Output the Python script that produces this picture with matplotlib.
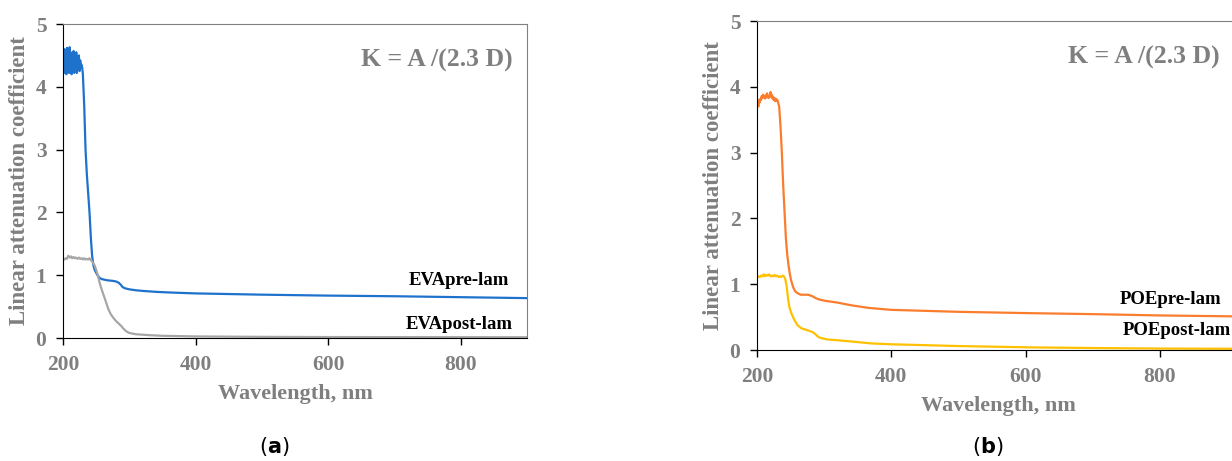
import matplotlib
matplotlib.use('Agg')
import matplotlib.pyplot as plt

plt.rcParams['font.family'] = 'Liberation Serif'
plt.rcParams['font.weight'] = 'bold'

# EVA panel (a)
eva_pre_wl = [200, 201, 202, 203, 204, 205, 206, 207, 208, 209, 210, 211, 212, 213, 214, 215, 216, 217, 218, 219,
              220, 221, 222, 223, 224, 225, 226, 227, 228, 229, 230, 232, 234, 236, 238, 240, 242, 244, 246, 248,
              250, 252, 255, 258, 262, 266, 270, 275, 280, 284, 287, 290, 294, 300, 310, 320, 340, 360, 400, 450,
              500, 600, 700, 800, 900]
eva_pre_k = [4.45, 4.25, 4.6, 4.22, 4.55, 4.2, 4.62, 4.25, 4.58, 4.22, 4.63, 4.3, 4.5, 4.2, 4.55, 4.25, 4.57, 4.22, 4.5, 4.3,
             4.55, 4.22, 4.45, 4.3, 4.5, 4.25, 4.42, 4.3, 4.35, 4.3, 4.2, 3.7, 3.0, 2.6, 2.3, 2.0, 1.6, 1.3, 1.15, 1.08,
             1.04, 1.0, 0.96, 0.94, 0.93, 0.92, 0.915, 0.91, 0.9, 0.88, 0.85, 0.81, 0.79, 0.775, 0.76, 0.75, 0.735, 0.725, 0.71, 0.70,
             0.69, 0.675, 0.665, 0.65, 0.635]

eva_post_wl = [200, 202, 204, 206, 208, 210, 212, 214, 216, 218, 220, 222, 224, 226, 228, 230, 232, 234, 236, 238,
               240, 242, 244, 248, 252, 256, 260, 264, 268, 272, 276, 280, 284, 288, 291, 295, 300, 310, 330, 350,
               400, 500, 600, 900]
eva_post_k = [1.24, 1.25, 1.27, 1.26, 1.31, 1.28, 1.30, 1.27, 1.29, 1.27, 1.28, 1.26, 1.28, 1.26, 1.27, 1.25, 1.27, 1.25, 1.26, 1.25,
              1.27, 1.24, 1.22, 1.15, 1.02, 0.85, 0.72, 0.6, 0.47, 0.38, 0.32, 0.27, 0.23, 0.19, 0.15, 0.11, 0.08, 0.06, 0.045, 0.035,
              0.025, 0.018, 0.015, 0.012]

# POE panel (b)
poe_pre_wl = [200, 201, 202, 203, 204, 205, 206, 207, 208, 209, 210, 211, 212, 213, 214, 215, 216, 217, 218, 219,
              220, 221, 222, 223, 224, 225, 226, 227, 228, 229, 230, 231, 233, 235, 237, 239, 241, 243, 245, 247,
              249, 251, 254, 257, 261, 265, 270, 276, 282, 287, 292, 300, 320, 340, 366, 400, 500, 607, 700, 800, 920]
poe_pre_k = [3.72, 3.78, 3.7, 3.8, 3.76, 3.82, 3.8, 3.86, 3.83, 3.88, 3.84, 3.86, 3.82, 3.87, 3.84, 3.9, 3.86, 3.83, 3.86, 3.84,
             3.92, 3.86, 3.88, 3.82, 3.85, 3.8, 3.83, 3.78, 3.82, 3.79, 3.8, 3.78, 3.7, 3.4, 3.0, 2.5, 2.1, 1.7, 1.45, 1.28,
             1.15, 1.05, 0.95, 0.89, 0.86, 0.84, 0.84, 0.84, 0.82, 0.79, 0.77, 0.75, 0.72, 0.68, 0.64, 0.61, 0.58, 0.56, 0.545, 0.525, 0.51]

poe_post_wl = [200, 202, 204, 206, 208, 210, 212, 214, 216, 218, 220, 222, 224, 226, 228, 230, 232, 234, 236, 238,
               240, 242, 244, 246, 248, 251, 255, 260, 266, 272, 278, 283, 287, 291, 296, 305, 318, 340, 370, 400,
               500, 607, 700, 800, 920]
poe_post_k = [1.1, 1.12, 1.11, 1.13, 1.12, 1.15, 1.12, 1.14, 1.13, 1.15, 1.12, 1.13, 1.12, 1.14, 1.12, 1.13, 1.11, 1.12, 1.11, 1.13,
              1.12, 1.08, 0.98, 0.8, 0.66, 0.56, 0.47, 0.38, 0.33, 0.31, 0.29, 0.27, 0.24, 0.2, 0.18, 0.16, 0.15, 0.13, 0.1, 0.087,
              0.06, 0.04, 0.03, 0.022, 0.018]

x_ticks = [200, 400, 600, 800]
y_ticks = [0, 1, 2, 3, 4, 5]
formula = 'K = A /(2.3 D)'

gray_txt = '#7f7f7f'

fig = plt.figure(figsize=(12.32, 4.61), dpi=100)


def style_axes(ax):
    ax.set_ylim(0, 5)
    ax.set_xticks(x_ticks)
    ax.set_yticks(y_ticks)
    ax.tick_params(direction='out', length=5, width=1, colors='black', labelcolor=gray_txt, labelsize=15.5)
    ax.tick_params(axis='x', pad=7)
    ax.tick_params(axis='y', pad=7)
    for lab in ax.get_xticklabels() + ax.get_yticklabels():
        lab.set_fontweight('bold')
    ax.spines['left'].set_color('black')
    ax.spines['bottom'].set_color('black')
    ax.spines['top'].set_color('#808080')
    ax.spines['right'].set_color('#808080')
    ax.set_ylabel('Linear attenuation coefficient', fontsize=16.5, fontweight='bold', color=gray_txt, labelpad=4)


# panel (a)
ax1 = fig.add_axes([63 / 1232, 123 / 461, 464 / 1232, 314 / 461])
ax1.plot(eva_pre_wl, eva_pre_k, color='#1f72cc', lw=1.6)
ax1.plot(eva_post_wl, eva_post_k, color='#a6a6a6', lw=1.6)
ax1.set_xlim(200, 900)
style_axes(ax1)
ax1.set_xlabel('Wavelength, nm', fontsize=16, fontweight='bold', color=gray_txt, labelpad=7)
ax1.text(0.968, 0.885, formula, transform=ax1.transAxes, ha='right', va='center', fontsize=18.5, fontweight='bold', color=gray_txt)
ax1.text(797, 0.92, 'EVApre-lam', ha='center', va='center', fontsize=13.5, fontweight='bold', color='black')
ax1.text(797, 0.22, 'EVApost-lam', ha='center', va='center', fontsize=13.5, fontweight='bold', color='black')

# panel (b)
ax2 = fig.add_axes([757 / 1232, 111 / 461, 483 / 1232, 329 / 461])
ax2.plot(poe_pre_wl, poe_pre_k, color='#fa7d2d', lw=1.6)
ax2.plot(poe_post_wl, poe_post_k, color='#ffc000', lw=1.6)
ax2.set_xlim(200, 919)
style_axes(ax2)
ax2.set_xlabel('Wavelength, nm', fontsize=16, fontweight='bold', color=gray_txt, labelpad=7)
ax2.text(0.958, 0.888, formula, transform=ax2.transAxes, ha='right', va='center', fontsize=18.5, fontweight='bold', color=gray_txt)
ax2.text(816, 0.76, 'POEpre-lam', ha='center', va='center', fontsize=13.5, fontweight='bold', color='black')
ax2.text(825, 0.29, 'POEpost-lam', ha='center', va='center', fontsize=13.5, fontweight='bold', color='black')

fig.text(274 / 1232, 1 - 446 / 461, r'($\mathbf{a}$)', ha='center', va='center', fontsize=15, family='DejaVu Sans', fontweight='normal')
fig.text(988 / 1232, 1 - 446 / 461, r'($\mathbf{b}$)', ha='center', va='center', fontsize=15, family='DejaVu Sans', fontweight='normal')

fig.savefig('out.png', dpi=100)
